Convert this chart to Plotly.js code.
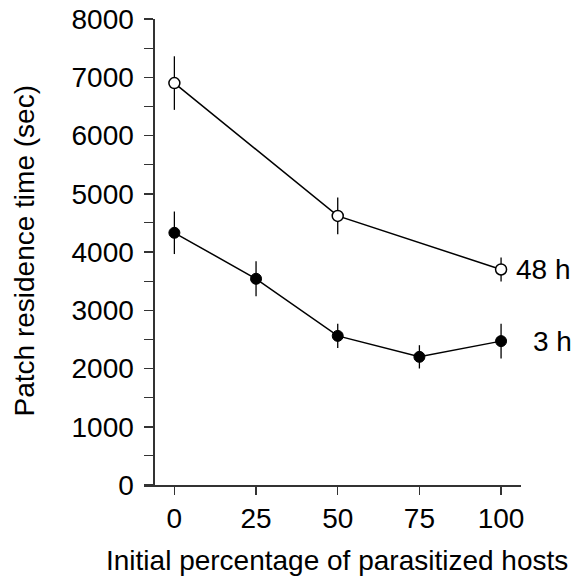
<!DOCTYPE html>
<html>
<head>
<meta charset="utf-8">
<script src="https://cdn.plot.ly/plotly-3.0.1.min.js"></script>
<style>html,body{margin:0;padding:0;background:#fff;}#chart{width:576px;height:580px;}</style>
</head>
<body>
<div id="chart"></div>
<script>
const xPercent3h = [0, 25, 50, 75, 100];
const mean3h = [4330, 3540, 2560, 2200, 2470];
const err3h = [365, 300, 210, 200, 300];

const xPercent48h = [0, 50, 100];
const mean48h = [6900, 4620, 3700];
const err48h = [460, 315, 205];

const seriesLabels = ["48 h", "3 h"];
const xTicks = [0, 25, 50, 75, 100];
const yTicks = [0, 1000, 2000, 3000, 4000, 5000, 6000, 7000, 8000];
const xTitle = 'Initial percentage of parasitized hosts';
const yTitle = 'Patch residence time (sec)';

const fontFam = "'Liberation Sans', Arial, sans-serif";
const FS = 28;

const traces = [
  {
    x: xPercent48h, y: mean48h, type: 'scatter', mode: 'lines+markers',
    line: {color: '#000', width: 1.5},
    marker: {symbol: 'circle', size: 11, color: '#fff', line: {color: '#000', width: 1.5}},
    error_y: {type: 'data', array: err48h, visible: true, color: '#000', thickness: 1.3, width: 0},
    showlegend: false
  },
  {
    x: xPercent3h, y: mean3h, type: 'scatter', mode: 'lines+markers',
    line: {color: '#000', width: 1.5},
    marker: {symbol: 'circle', size: 11, color: '#000', line: {color: '#000', width: 1}},
    error_y: {type: 'data', array: err3h, visible: true, color: '#000', thickness: 1.3, width: 0},
    showlegend: false
  }
];

const layout = {
  width: 576, height: 580,
  margin: {l: 144, r: 55, t: 19, b: 95},
  paper_bgcolor: '#fff', plot_bgcolor: '#fff',
  font: {family: fontFam, size: FS, color: '#000'},
  xaxis: {
    range: [-9.3, 106.1],
    tickvals: xTicks, ticktext: xTicks.map(String),
    showline: true, linecolor: '#333', linewidth: 1.5,
    ticks: 'outside', ticklen: 8, tickwidth: 1.5, tickcolor: '#333',
    showgrid: false, zeroline: false,
    tickfont: {family: fontFam, size: FS, color: '#000'}
  },
  yaxis: {
    range: [0, 8000],
    anchor: 'free', position: 0.025,
    tickvals: yTicks, ticktext: yTicks.map(String),
    showline: true, linecolor: '#333', linewidth: 1.5,
    ticks: 'outside', ticklen: 9, tickwidth: 1.5, tickcolor: '#333',
    ticklabelstandoff: 5,
    minor: {dtick: 500, ticks: 'outside', ticklen: 9, tickwidth: 1.2, tickcolor: '#333', showgrid: false},
    showgrid: false, zeroline: false,
    tickfont: {family: fontFam, size: FS, color: '#000'}
  },
  annotations: [
    {x: -0.316, y: 0.503, xref: 'paper', yref: 'paper', text: yTitle, textangle: -90, showarrow: false,
     xanchor: 'center', yanchor: 'middle', font: {family: fontFam, size: FS, color: '#000'}},
    {x: 0.511, y: -0.163, xref: 'paper', yref: 'paper', text: xTitle, showarrow: false,
     xanchor: 'center', yanchor: 'middle', font: {family: fontFam, size: FS, color: '#000'}},
    {x: xPercent48h[2], y: mean48h[2], xref: 'x', yref: 'y', text: seriesLabels[0], showarrow: false,
     xanchor: 'left', yanchor: 'middle', xshift: 13, font: {family: fontFam, size: FS, color: '#000'}},
    {x: xPercent3h[4], y: mean3h[4], xref: 'x', yref: 'y', text: seriesLabels[1], showarrow: false,
     xanchor: 'left', yanchor: 'middle', xshift: 30, font: {family: fontFam, size: FS, color: '#000'}}
  ]
};

Plotly.newPlot('chart', traces, layout, {staticPlot: true, displayModeBar: false});
</script>
</body>
</html>
